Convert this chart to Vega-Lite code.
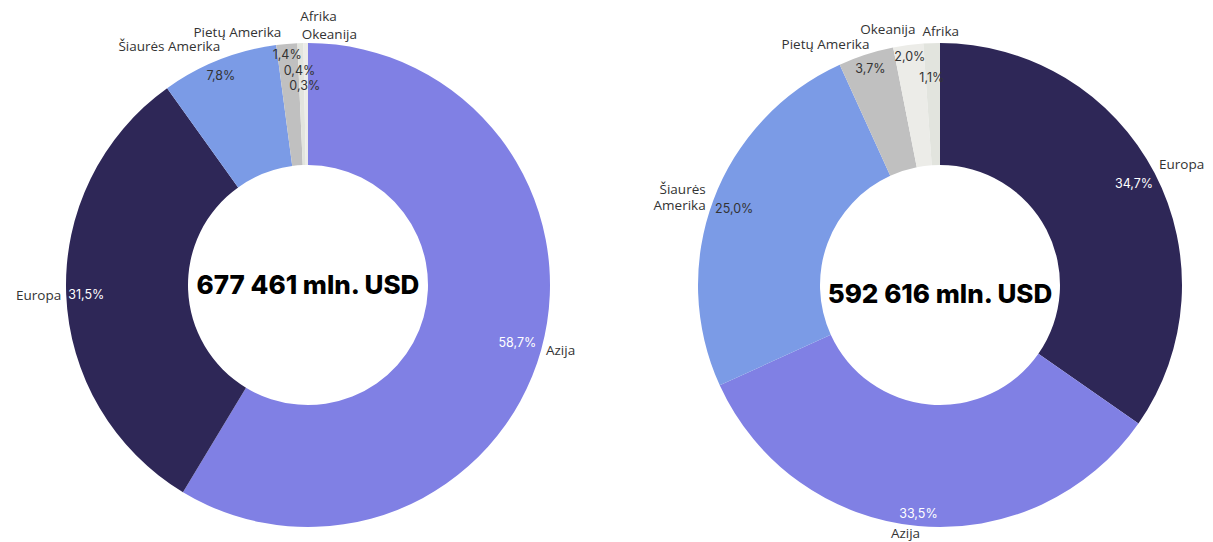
{
  "$schema": "https://vega.github.io/schema/vega-lite/v6.json",
  "background": "white",
  "autosize": {"type": "pad", "resize": false},
  "padding": {"top": 10, "left": 5, "right": 0, "bottom": 0},
  "config": {"view": {"stroke": null}, "text": {"font": "Inter"}},
  "bounds": "flush",
  "spacing": 69,
  "datasets": {
    "left": [
      {"region": "Azija", "share": 58.7, "pct": "58,7%"},
      {"region": "Europa", "share": 31.5, "pct": "31,5%"},
      {"region": "Šiaurės Amerika", "share": 7.8, "pct": "7,8%"},
      {"region": "Pietų Amerika", "share": 1.4, "pct": "1,4%"},
      {"region": "Afrika", "share": 0.4, "pct": "0,4%"},
      {"region": "Okeanija", "share": 0.3, "pct": "0,3%"}
    ],
    "right": [
      {"region": "Europa", "share": 34.7, "pct": "34,7%"},
      {"region": "Azija", "share": 33.5, "pct": "33,5%"},
      {"region": "Šiaurės Amerika", "share": 25.0, "pct": "25,0%"},
      {"region": "Pietų Amerika", "share": 3.7, "pct": "3,7%"},
      {"region": "Okeanija", "share": 2.0, "pct": "2,0%"},
      {"region": "Afrika", "share": 1.1, "pct": "1,1%"}
    ],
    "totalLeft": [{"total": "677 461 mln. USD"}],
    "totalRight": [{"total": "592 616 mln. USD"}]
  },
  "hconcat": [
    {
      "width": 606,
      "height": 514,
      "data": {"name": "left"},
      "encoding": {
        "theta": {"field": "share", "type": "quantitative", "stack": true},
        "order": {"field": "share", "sort": "descending"}
      },
      "layer": [
        {
          "mark": {"type": "arc", "radius": 242, "radius2": 120},
          "encoding": {
            "color": {"field": "region", "type": "nominal", "legend": null,
              "scale": {"domain": ["Azija", "Europa", "Šiaurės Amerika", "Pietų Amerika", "Okeanija", "Afrika"],
                        "range": ["#8080e4", "#2e2757", "#7b9be6", "#c0c0c0", "#ecece8", "#e2e4de"]}}
          }
        },
        {"mark": {"type": "text", "radius": 237, "align": "right", "baseline": "middle", "dy": -6, "fontSize": 12.5, "color": "#ffffff"},
         "encoding": {"text": {"condition": {"test": {"field": "region", "equal": "Azija"}, "field": "pct"}, "value": ""}}},
        {"mark": {"type": "text", "radius": 237, "align": "left", "baseline": "middle", "dx": -3, "dy": 1, "fontSize": 12.5, "color": "#ffffff"},
         "encoding": {"text": {"condition": {"test": {"field": "region", "equal": "Europa"}, "field": "pct"}, "value": ""}}},
        {"mark": {"type": "text", "radius": 237, "align": "center", "baseline": "middle", "dy": 11, "fontSize": 12.5, "color": "#333333"},
         "encoding": {"text": {"condition": {"test": {"field": "region", "equal": "Šiaurės Amerika"}, "field": "pct"}, "value": ""}}},
        {"mark": {"type": "text", "radius": 237, "align": "center", "baseline": "middle", "dy": 6, "fontSize": 12.5, "color": "#333333"},
         "encoding": {"text": {"condition": {"test": {"field": "region", "equal": "Pietų Amerika"}, "field": "pct"}, "value": ""}}},
        {"mark": {"type": "text", "radius": 237, "align": "center", "baseline": "middle", "dx": -1, "dy": 23, "fontSize": 12.5, "color": "#333333"},
         "encoding": {"text": {"condition": {"test": {"field": "region", "equal": "Afrika"}, "field": "pct"}, "value": ""}}},
        {"mark": {"type": "text", "radius": 237, "align": "center", "baseline": "middle", "dx": -1, "dy": 38, "fontSize": 12.5, "color": "#333333"},
         "encoding": {"text": {"condition": {"test": {"field": "region", "equal": "Okeanija"}, "field": "pct"}, "value": ""}}},
        {"mark": {"type": "text", "radius": 247, "align": "left", "baseline": "middle", "dy": 0, "font": "Open Sans", "fontSize": 13.5, "color": "#333333"},
         "encoding": {"text": {"condition": {"test": {"field": "region", "equal": "Azija"}, "field": "region"}, "value": ""}}},
        {"mark": {"type": "text", "radius": 247, "align": "right", "baseline": "middle", "dy": 1, "font": "Open Sans", "fontSize": 13.5, "color": "#333333"},
         "encoding": {"text": {"condition": {"test": {"field": "region", "equal": "Europa"}, "field": "region"}, "value": ""}}},
        {"mark": {"type": "text", "radius": 247, "align": "right", "baseline": "middle", "dx": 3, "dy": -8, "font": "Open Sans", "fontSize": 13.5, "color": "#333333"},
         "encoding": {"text": {"condition": {"test": {"field": "region", "equal": "Šiaurės Amerika"}, "field": "region"}, "value": ""}}},
        {"mark": {"type": "text", "radius": 247, "align": "right", "baseline": "middle", "dx": -5, "dy": -6, "font": "Open Sans", "fontSize": 13.5, "color": "#333333"},
         "encoding": {"text": {"condition": {"test": {"field": "region", "equal": "Pietų Amerika"}, "field": "region"}, "value": ""}}},
        {"mark": {"type": "text", "radius": 247, "align": "left", "baseline": "middle", "dy": -21, "font": "Open Sans", "fontSize": 13.5, "color": "#333333"},
         "encoding": {"text": {"condition": {"test": {"field": "region", "equal": "Afrika"}, "field": "region"}, "value": ""}}},
        {"mark": {"type": "text", "radius": 247, "align": "left", "baseline": "middle", "dx": -4, "dy": -3, "font": "Open Sans", "fontSize": 13.5, "color": "#333333"},
         "encoding": {"text": {"condition": {"test": {"field": "region", "equal": "Okeanija"}, "field": "region"}, "value": ""}}},
        {"data": {"name": "totalLeft"},
         "mark": {"type": "text", "align": "center", "baseline": "middle", "dy": 1, "fontSize": 26, "fontWeight": 800, "color": "#000000"},
         "encoding": {"theta": null, "order": null, "text": {"field": "total", "type": "nominal"}}}
      ]
    },
    {
      "width": 520,
      "height": 514,
      "data": {"name": "right"},
      "encoding": {
        "theta": {"field": "share", "type": "quantitative", "stack": true},
        "order": {"field": "share", "sort": "descending"}
      },
      "layer": [
        {
          "mark": {"type": "arc", "radius": 242, "radius2": 120},
          "encoding": {
            "color": {"field": "region", "type": "nominal", "legend": null,
              "scale": {"domain": ["Azija", "Europa", "Šiaurės Amerika", "Pietų Amerika", "Okeanija", "Afrika"],
                        "range": ["#8080e4", "#2e2757", "#7b9be6", "#c0c0c0", "#ecece8", "#e2e4de"]}}
          }
        },
        {"mark": {"type": "text", "radius": 237, "align": "right", "baseline": "middle", "dx": 3, "dy": 9, "fontSize": 12.5, "color": "#ffffff"},
         "encoding": {"text": {"condition": {"test": {"field": "region", "equal": "Europa"}, "field": "pct"}, "value": ""}}},
        {"mark": {"type": "text", "radius": 237, "align": "center", "baseline": "middle", "dy": -7, "fontSize": 12.5, "color": "#ffffff"},
         "encoding": {"text": {"condition": {"test": {"field": "region", "equal": "Azija"}, "field": "pct"}, "value": ""}}},
        {"mark": {"type": "text", "radius": 237, "align": "left", "baseline": "middle", "dx": -3, "dy": 7, "fontSize": 12.5, "color": "#333333"},
         "encoding": {"text": {"condition": {"test": {"field": "region", "equal": "Šiaurės Amerika"}, "field": "pct"}, "value": ""}}},
        {"mark": {"type": "text", "radius": 237, "align": "center", "baseline": "middle", "dx": 3, "dy": 10, "fontSize": 12.5, "color": "#333333"},
         "encoding": {"text": {"condition": {"test": {"field": "region", "equal": "Pietų Amerika"}, "field": "pct"}, "value": ""}}},
        {"mark": {"type": "text", "radius": 237, "align": "center", "baseline": "middle", "dx": 1, "dy": 7, "fontSize": 12.5, "color": "#333333"},
         "encoding": {"text": {"condition": {"test": {"field": "region", "equal": "Okeanija"}, "field": "pct"}, "value": ""}}},
        {"mark": {"type": "text", "radius": 237, "align": "center", "baseline": "middle", "dy": 30, "fontSize": 12.5, "color": "#333333"},
         "encoding": {"text": {"condition": {"test": {"field": "region", "equal": "Afrika"}, "field": "pct"}, "value": ""}}},
        {"mark": {"type": "text", "radius": 247, "align": "left", "baseline": "middle", "dy": -6, "font": "Open Sans", "fontSize": 13.5, "color": "#333333"},
         "encoding": {"text": {"condition": {"test": {"field": "region", "equal": "Europa"}, "field": "region"}, "value": ""}}},
        {"mark": {"type": "text", "radius": 247, "align": "center", "baseline": "middle", "dx": -12, "dy": 3, "font": "Open Sans", "fontSize": 13.5, "color": "#333333"},
         "encoding": {"text": {"condition": {"test": {"field": "region", "equal": "Azija"}, "field": "region"}, "value": ""}}},
        {"mark": {"type": "text", "radius": 247, "align": "right", "baseline": "middle", "dx": -3, "dy": -8, "font": "Open Sans", "fontSize": 13.5, "color": "#333333", "lineBreak": " ", "lineHeight": 16},
         "encoding": {"text": {"condition": {"test": {"field": "region", "equal": "Šiaurės Amerika"}, "field": "region"}, "value": ""}}},
        {"mark": {"type": "text", "radius": 247, "align": "right", "baseline": "middle", "dx": 5, "dy": -5, "font": "Open Sans", "fontSize": 13.5, "color": "#333333"},
         "encoding": {"text": {"condition": {"test": {"field": "region", "equal": "Pietų Amerika"}, "field": "region"}, "value": ""}}},
        {"mark": {"type": "text", "radius": 247, "align": "right", "baseline": "middle", "dx": 8, "dy": -10, "font": "Open Sans", "fontSize": 13.5, "color": "#333333"},
         "encoding": {"text": {"condition": {"test": {"field": "region", "equal": "Okeanija"}, "field": "region"}, "value": ""}}},
        {"mark": {"type": "text", "radius": 247, "align": "left", "baseline": "middle", "dx": -9, "dy": -6, "font": "Open Sans", "fontSize": 13.5, "color": "#333333"},
         "encoding": {"text": {"condition": {"test": {"field": "region", "equal": "Afrika"}, "field": "region"}, "value": ""}}},
        {"data": {"name": "totalRight"},
         "mark": {"type": "text", "align": "center", "baseline": "middle", "dy": 10, "fontSize": 26, "fontWeight": 800, "color": "#000000"},
         "encoding": {"theta": null, "order": null, "text": {"field": "total", "type": "nominal"}}}
      ]
    }
  ]
}
